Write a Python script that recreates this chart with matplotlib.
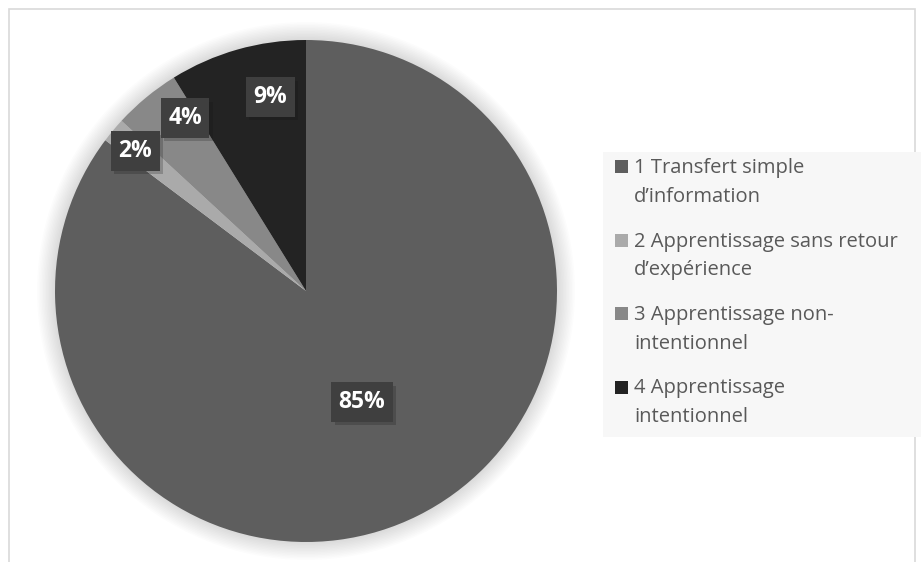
import matplotlib
matplotlib.use("Agg")
import matplotlib.pyplot as plt
from matplotlib.patches import Rectangle, Circle
import matplotlib.patheffects as pe

categories = ["1 Transfert simple\nd\u2019information",
              "2 Apprentissage sans retour\nd\u2019exp\u00e9rience",
              "3 Apprentissage non-\nintentionnel",
              "4 Apprentissage\nintentionnel"]
values = [85.0, 1.6, 4.3, 8.8]
colors = ["#5e5e5e", "#aaaaaa", "#888888", "#232323"]
# label placement, fractions of the radius relative to the pie centre
label_pos = [(0.223, -0.442), (-0.681, 0.558), (-0.482, 0.689), (-0.143, 0.773)]

plt.rcParams['font.family'] = ['Open Sans', 'DejaVu Sans']

W, H = 921, 562
fig = plt.figure(figsize=(W/100, H/100), dpi=100)
fig.patch.set_facecolor("white")
ax = fig.add_axes([0, 0, 1, 1])

cx, cy, R = 306, 271, 251

# soft shadow around the pie
for k in range(1, 13):
    ax.add_patch(Circle((cx, cy), R + k * 1.5, facecolor="black", edgecolor="none",
                        alpha=0.012, zorder=0))

wedges, _ = ax.pie(values, colors=colors, startangle=90, counterclock=False,
                   center=(cx, cy), radius=R, frame=True,
                   wedgeprops=dict(linewidth=0, zorder=1))
ax.set_xlim(0, W)
ax.set_ylim(0, H)
ax.set_aspect('equal')
ax.axis('off')

# frame
ax.add_patch(Rectangle((8.5, -5), 906, H - 8.5 + 5, fill=False, edgecolor="#d9d9d9", lw=1.2))

total = sum(values)
for v, (fx, fy) in zip(values, label_pos):
    t = ax.text(cx + fx * R, cy + fy * R, f"{round(v / total * 100):.0f}%", color="white",
                fontsize=16.5, fontweight="bold", ha="center", va="center", zorder=3,
                bbox=dict(boxstyle="square,pad=0.33", facecolor="#3f3f3f", edgecolor="none"))
    t.get_bbox_patch().set_path_effects([pe.SimplePatchShadow(offset=(2.5, -2.5), alpha=0.22),
                                         pe.Normal()])

# legend
ax.add_patch(Rectangle((603, H - 437), 318, 285, facecolor="#f7f7f7", edgecolor="none"))
first_baseline, entry_step, line_step = 173, 73.5, 29
for i, (c, lab) in enumerate(zip(colors, categories)):
    b = first_baseline + i * entry_step
    ax.add_patch(Rectangle((615, H - b), 13, 13, facecolor=c, edgecolor="none"))
    for j, line in enumerate(lab.split("\n")):
        ax.text(634, H - (b + j * line_step), line, fontsize=14.5, color="#595959",
                ha="left", va="baseline")

fig.savefig("out.png", dpi=100)
